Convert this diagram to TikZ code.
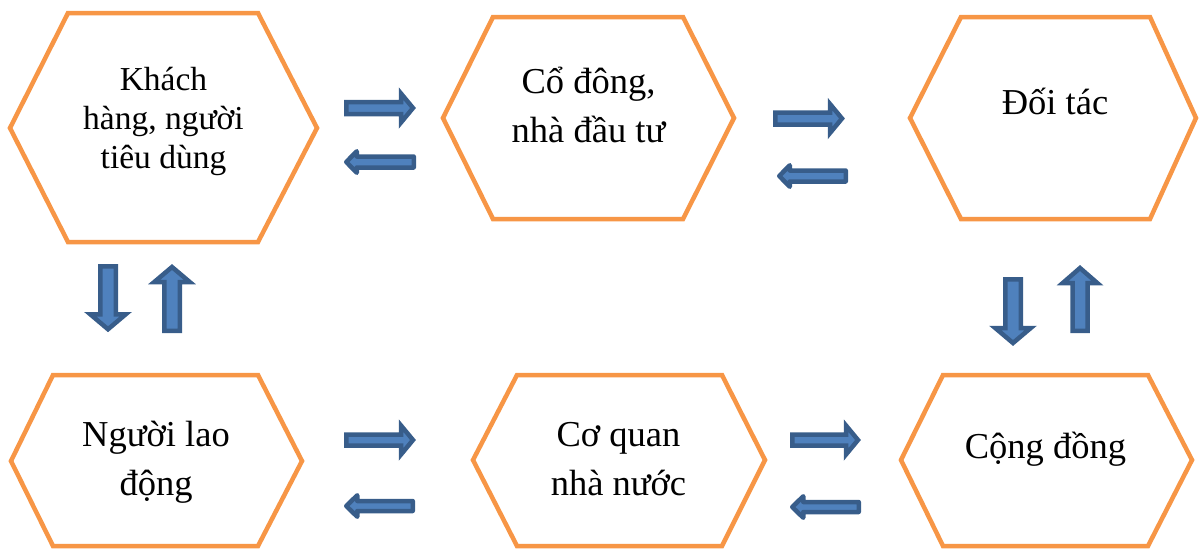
\documentclass[tikz,border=0pt]{standalone}
\usepackage{fontspec}
\setmainfont{Liberation Serif}
\definecolor{hexorange}{HTML}{F79646}
\definecolor{arrowfill}{HTML}{4F81BD}
\definecolor{arrowline}{HTML}{385D8A}
\tikzset{
  hexagon/.style={draw=hexorange, line width=4.5pt, fill=white, line join=miter},
  hexlabel/.style={align=center, inner sep=0pt, text=black, font=\fontsize{36.5}{49}\selectfont},
  smalllabel/.style={hexlabel, font=\fontsize{33.5}{39}\selectfont},
  blockarrow/.style={draw=arrowline, fill=arrowfill, line width=4.5pt, line join=miter},
  leftblock/.style={blockarrow, line join=round},
}
% #1 style, #2 tail, #3 angle, #4 length, #5 shaft half width, #6 head half width, #7 head length
\newcommand{\blockArrow}[7]{%
  \begin{scope}[shift={#2}, rotate=#3]
    \draw[#1] (0,-#5) -- ({#4-#7},-#5) -- ({#4-#7},-#6) -- (#4,0) -- ({#4-#7},#6) -- ({#4-#7},#5) -- (0,#5) -- cycle;
  \end{scope}}
\begin{document}
\begin{tikzpicture}[x=1pt, y=-1pt]
\useasboundingbox (0,0) rectangle (1200,550);

% hexagons
\draw[hexagon] (10,128) -- (68,13) -- (258,13) -- (317,128) -- (258,242) -- (68,242) -- cycle;
\draw[hexagon] (443,118) -- (493,17) -- (683,17) -- (734,118) -- (683,219) -- (493,219) -- cycle;
\draw[hexagon] (910,118) -- (961,17) -- (1150,17) -- (1196,118) -- (1150,219) -- (961,219) -- cycle;
\draw[hexagon] (11,461) -- (53,375) -- (258,375) -- (302,461) -- (258,546) -- (53,546) -- cycle;
\draw[hexagon] (473,460) -- (517,375) -- (722,375) -- (765,460) -- (722,546) -- (517,546) -- cycle;
\draw[hexagon] (901,460) -- (943,375) -- (1148,375) -- (1192,460) -- (1148,546) -- (943,546) -- cycle;

% labels
\node[smalllabel] (h1) at (163.5,122) {\strut Khách\\\strut hàng, người\\\strut tiêu dùng};
\node[hexlabel] (h2) at (588.5,108) {\strut Cổ đông,\\\strut nhà đầu tư};
\node[hexlabel] (h3) at (1055,105) {\strut Đối tác};
\node[hexlabel] (h4) at (156,461) {\strut Người lao\\\strut động};
\node[hexlabel] (h5) at (618.5,461) {\strut Cơ quan\\\strut nhà nước};
\node[hexlabel] (h6) at (1045.5,449) {\strut Cộng đồng};

% arrows, top row
\blockArrow{blockarrow}{(346.25,108)}{0}{66.75}{6}{14.5}{12}
\blockArrow{leftblock}{(413.75,162)}{180}{67.5}{5.5}{10.75}{10.5}
\blockArrow{blockarrow}{(775.25,118.5)}{0}{66.75}{6}{14.5}{12}
\blockArrow{leftblock}{(845.75,176)}{180}{66.5}{5.5}{10.75}{10.5}

% arrows, vertical
\blockArrow{blockarrow}{(108,266.25)}{-90}{63}{7.75}{17.75}{15}
\blockArrow{blockarrow}{(172,330.75)}{90}{63.75}{7.75}{17.75}{15}
\blockArrow{blockarrow}{(1013,279.25)}{-90}{63.75}{7.75}{17.75}{15}
\blockArrow{blockarrow}{(1080,330.75)}{90}{62.75}{7.5}{17.25}{15}

% arrows, bottom row
\blockArrow{blockarrow}{(346.25,440)}{0}{66.75}{5.5}{14.5}{12}
\blockArrow{leftblock}{(412.75,506)}{180}{66.5}{5}{10.75}{11}
\blockArrow{blockarrow}{(792.25,440)}{0}{65.75}{5.5}{14.5}{12}
\blockArrow{leftblock}{(858.75,507)}{180}{66.5}{5}{10.75}{11}
\end{tikzpicture}
\end{document}
